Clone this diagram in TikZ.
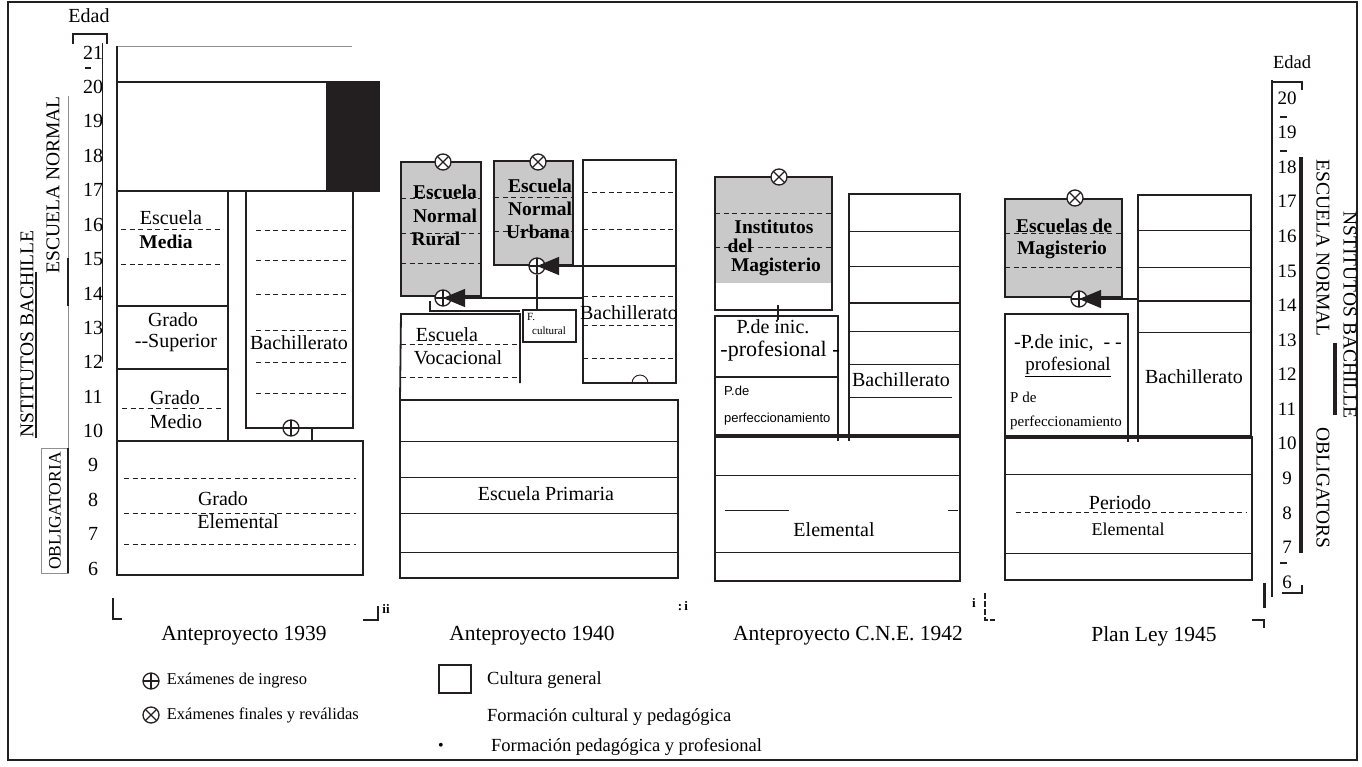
\documentclass[tikz,border=0pt]{standalone}
\usepackage{fontspec}
\setmainfont{Liberation Serif}
\setsansfont{Liberation Sans}
\usepackage{tikz}
\usetikzlibrary{arrows.meta, calc, positioning}
\usepackage{xcolor}
\definecolor{Ink}{cmyk}{0, 0, 0, 1.00}
\definecolor{ScanGray}{cmyk}{0, 0, 0, 0.24}
\definecolor{FaintGray}{cmyk}{0, 0, 0, 0.50}
\newcommand{\fsz}[1]{\fontsize{#1}{#1}\selectfont}
\tikzset{%
  plain_block/.style={%
    rectangle,%
    draw=Ink,%
    line width=1.8pt,%
    inner sep=0pt,%
    outer sep=0pt,%
    anchor=north west,%
  },
  shaded_block/.style={%
    plain_block,%
    fill=ScanGray,%
    line width=2.4pt,%
  },
  base_block/.style={%
    plain_block,%
    line width=2.6pt,%
  },
  edge_line/.style={%
    color=Ink,%
    line width=1.8pt,%
  },
  thin_rule/.style={%
    color=Ink,%
    line width=0.9pt,%
  },
  heavy_rule/.style={%
    color=Ink,%
    line width=2.8pt,%
  },
  dash_rule/.style={%
    color=Ink,%
    line width=1pt,%
    dash pattern=on 5pt off 3.5pt,%
  },
  annotate/.style={%
    font={\fsz{20}},%
    inner sep=0pt,%
  },
  bold_annotate/.style={%
    font={\fsz{19.5}\bfseries},%
    inner sep=0pt,%
  },
  small_annotate/.style={%
    font={\fsz{15}},%
    inner sep=0pt,%
    anchor=west,%
  },
  sans_annotate/.style={%
    font={\sffamily\fsz{13}},%
    inner sep=0pt,%
    anchor=west,%
  },
  age_label/.style={%
    font={\fsz{20}},%
    inner sep=0pt,%
  },
  side_label/.style={%
    font={\fsz{19.5}},%
    inner sep=0pt,%
  },
  column_title/.style={%
    font={\fsz{21.5}},%
    inner sep=0pt,%
  },
  key_text/.style={%
    font={\fsz{16.5}},%
    inner sep=0pt,%
    anchor=west,%
  },
  key_text_large/.style={%
    font={\fsz{18.5}},%
    inner sep=0pt,%
    anchor=west,%
  },
  crop_text/.style={%
    font={\fsz{13}\bfseries},%
    inner sep=0pt,%
  },
  ingreso_mark/.style={%
    circle,%
    draw=Ink,%
    fill=white,%
    line width=1.3pt,%
    minimum size=16pt,%
    inner sep=0pt,%
    path picture={%
      \draw[line width=1.1pt]
        (path picture bounding box.north) -- (path picture bounding box.south)
        (path picture bounding box.west) -- (path picture bounding box.east);%
    },%
  },
  final_mark/.style={%
    circle,%
    draw=Ink,%
    fill=white,%
    line width=1.3pt,%
    minimum size=16pt,%
    inner sep=0pt,%
    path picture={%
      \draw[line width=1.1pt]
        (path picture bounding box.north west) -- (path picture bounding box.south east)
        (path picture bounding box.south west) -- (path picture bounding box.north east);%
    },%
  },
  entry_arrow/.style={%
    color=Ink,%
    line width=1.2pt,%
    -{Triangle[length=22pt, width=18pt]},%
  },
}

\begin{document}
\begin{tikzpicture}[x=1pt, y=-1pt]
  \useasboundingbox (0,0) rectangle (1362,766);
  \draw[heavy_rule, line width=2.4pt] (8,2) rectangle (1357,760);

  % left age scale
  \node[age_label] (edad_l) at (89,16) {Edad};
  \draw[heavy_rule] (73,44) -- (73,34) -- (107,34) -- (107,44);
  \draw[thin_rule] (102,43) -- (102,362);
  \draw[heavy_rule] (85,68) -- (91,68);
  \foreach \a in {6,...,21}
    \node[age_label] (la\a) at (93,{87+(20-\a)*34.4}) {\a};
  \node[side_label, rotate=90] (inst_l) at (27,334) {NSTITUTOS BACHILLE};
  \draw[thin_rule, line width=1.4pt] (36,272) -- (36,438);
  \node[side_label, rotate=90] (normal_l) at (53,185) {ESCUELA NORMAL};
  \draw[thin_rule, color=FaintGray] (68,96) -- (68,448);
  \draw[heavy_rule] (68,258) -- (68,306);
  \node[side_label, font={\fsz{17.5}}, rotate=90] (oblig_l) at (55,511) {OBLIGATORIA};
  \draw[thin_rule, color=FaintGray] (41,448) rectangle (68,573);
  \draw[heavy_rule] (68,448) -- (68,573);

  % Anteproyecto 1939
  \draw[thin_rule, color=FaintGray] (352,46) -- (117,46);
  \node[plain_block, draw=none, minimum width=235pt, minimum height=109pt] (upper39) at (117,82) {};
  \draw[thin_rule, line width=1.4pt] (117,46) -- (upper39.south west) -- (upper39.south east);
  \draw[heavy_rule] (upper39.north west) -- (upper39.north east);
  \node[plain_block, fill=Ink, minimum width=52pt, minimum height=109pt] (dark39) at (327,82) {};
  \node[plain_block, minimum width=111pt, minimum height=115pt] (media39) at (117,191) {};
  \node[plain_block, minimum width=111pt, minimum height=63pt] (sup39) at (117,306) {};
  \node[plain_block, minimum width=111pt, minimum height=72pt] (medio39) at (117,369) {};
  \node[plain_block, minimum width=107pt, minimum height=237pt] (bach39) at (246,191) {};
  \node[plain_block, minimum width=246pt, minimum height=134pt] (elem39) at (117,441) {};
  \foreach \yy in {229,264} \draw[dash_rule] (121,\yy) -- (223,\yy);
  \draw[dash_rule] (122,408) -- (221,408);
  \foreach \yy in {478,513,544} \draw[dash_rule] (124,\yy) -- (356,\yy);
  \foreach \yy in {230,260,294,330,362,393} \draw[dash_rule] (256,\yy) -- (346,\yy);
  \node[annotate] (esc39) at (171,218) {Escuela};
  \node[bold_annotate] (media39_t) at (166,242) {Media};
  \node[annotate] (gsup39) at (173,320) {Grado};
  \node[annotate] (sup39_t) at (176,343) {-{}-Superior};
  \node[annotate] (gmed39) at (175,398) {Grado};
  \node[annotate] (med39_t) at (176,422) {Medio};
  \node[annotate] (gele39) at (223,499) {Grado};
  \node[annotate] (ele39_t) at (238,522) {Elemental};
  \node[annotate] (bach39_t) at (299,343) {Bachillerato};
  \draw[edge_line, line width=1.4pt] (bach39.south west) ++(66,0) -- ++(0,13);
  \node[ingreso_mark] (in39) at (291,428) {};
  \node[column_title] (t39) at (244,636) {Anteproyecto 1939};
  \draw[heavy_rule, line width=2.4pt] (113,598) -- (113,619) -- (122,619);
  \draw[heavy_rule, line width=2.4pt] (363,620) -- (378,620) -- (378,606);
  \node[crop_text] (crop39) at (386,609) {ii};

  % Anteproyecto 1940
  \node[shaded_block, minimum width=80pt, minimum height=134pt] (rural) at (401,162) {};
  \node[shaded_block, minimum width=79pt, minimum height=104pt] (urbana) at (494,161) {};
  \node[plain_block, minimum width=93pt, minimum height=223pt] (bach40) at (583,160) {};
  \node[plain_block, draw=none, minimum width=119pt, minimum height=69pt] (voc) at (401,314) {};
  \node[plain_block, line width=2.2pt, minimum width=53pt, minimum height=32pt] (fcult) at (523,310) {};
  \node[base_block, minimum width=278pt, minimum height=178pt] (prim) at (400,400) {};
  \draw[edge_line] (voc.south east) -- (voc.north east) -- (voc.north west) -- (prim.north west);
  \foreach \yy in {198,233,263} \draw[dash_rule] (rural.west |- 0,\yy) -- (rural.east |- 0,\yy);
  \foreach \yy in {197,231} \draw[dash_rule] (urbana.west |- 0,\yy) -- (urbana.east |- 0,\yy);
  \foreach \yy in {192,229,296,325,358} \draw[dash_rule] (bach40.west |- 0,\yy) -- (bach40.east |- 0,\yy);
  \draw[heavy_rule] (bach40.west |- 0,266) -- (bach40.east |- 0,266);
  \foreach \yy in {344,377} \draw[dash_rule] (voc.west |- 0,\yy) -- (voc.east |- 0,\yy);
  \foreach \yy in {441,477,513,552} \draw[thin_rule] (prim.west |- 0,\yy) -- (prim.east |- 0,\yy);
  \node[bold_annotate] (rural_t1) at (445,192) {Escuela};
  \node[bold_annotate] (rural_t2) at (445,216) {Normal};
  \node[bold_annotate] (rural_t3) at (436,239) {Rural};
  \node[bold_annotate] (urb_t1) at (540,186) {Escuela};
  \node[bold_annotate] (urb_t2) at (540,209) {Normal};
  \node[bold_annotate] (urb_t3) at (538,232) {Urbana};
  \node[annotate] (voc_t1) at (447,335) {Escuela};
  \node[annotate] (voc_t2) at (458,358) {Vocacional};
  \node[font={\fsz{11}}, inner sep=0pt, anchor=north west] (fcult_t1) at ($(fcult.north west)+(4,3)$) {F.};
  \node[font={\fsz{11}}, inner sep=0pt] (fcult_t2) at (549,331) {cultural};
  \node[annotate] (bach40_t) at (629,313) {Bachillerato};
  \node[annotate] (prim_t) at (546,494) {Escuela Primaria};
  \node[final_mark] (rural_out) at (443,162) {};
  \node[final_mark] (urb_out) at (538,162) {};
  \node[ingreso_mark] (rural_in) at (443,298) {};
  \node[ingreso_mark] (urb_in) at (537,266) {};
  \draw[thin_rule, line width=1.6pt] (urb_in.south) -- (urb_in.south |- fcult.north);
  \draw[entry_arrow] (bach40.west |- rural_in) -- (rural_in.center);
  \draw[entry_arrow] (bach40.west |- urb_in) -- (urb_in.center);
  \draw[thin_rule, line width=1.4pt] (430,301) |- (520,311);
  \draw[thin_rule] (632,383) arc[start angle=180, end angle=0, radius=8pt];
  \node[column_title] (t40) at (532,636) {Anteproyecto 1940};
  \node[crop_text] (crop40) at (683,606) {:\,i};

  % Anteproyecto C.N.E. 1942
  \fill[ScanGray] (715,177) rectangle (832,283);
  \node[plain_block, line width=2.4pt, minimum width=117pt, minimum height=133pt] (inst) at (715,177) {};
  \node[plain_block, minimum width=123pt, minimum height=61pt] (inic42) at (715,316) {};
  \node[plain_block, minimum width=123pt, minimum height=59pt] (perf42) at (715,377) {};
  \node[plain_block, minimum width=111pt, minimum height=242pt] (bach42) at (849,194) {};
  \node[base_block, minimum width=245pt, minimum height=145pt] (base42) at (715,436) {};
  \draw[heavy_rule, line width=3.6pt] (base42.north west) -- (base42.north east);
  \draw[heavy_rule] (perf42.north west) -- (perf42.north east);
  \draw[edge_line] (perf42.south east) -- ++(0,5);
  \draw[edge_line] (bach42.south west) -- ++(0,5);
  \foreach \yy in {213,247} \draw[dash_rule] (inst.west |- 0,\yy) -- (inst.east |- 0,\yy);
  \foreach \yy in {231,266,331,364} \draw[thin_rule] (bach42.west |- 0,\yy) -- (bach42.east |- 0,\yy);
  \draw[heavy_rule] (bach42.west |- 0,303) -- (bach42.east |- 0,303);
  \draw[thin_rule] (bach42.west |- 0,397) -- (952,397);
  \foreach \yy in {475,552} \draw[thin_rule] (base42.west |- 0,\yy) -- (base42.east |- 0,\yy);
  \draw[thin_rule] (725,510) -- (789,510);
  \draw[thin_rule] (948,510) -- (958,510);
  \draw[thin_rule, line width=1.4pt] (778,305) -- (778,320);
  \node[final_mark] (inst_out) at (779,177) {};
  \node[bold_annotate] (inst_t1) at (774,227) {Institutos};
  \node[bold_annotate] (inst_t2) at (740,246) {del};
  \node[bold_annotate] (inst_t3) at (776,267) {Magisterio};
  \node[annotate] (inic42_t1) at (773,327) {P.de inic.};
  \node[annotate, font={\fsz{22}}] (inic42_t2) at (780,351) {-profesional -};
  \node[sans_annotate] (perf42_t1) at (724,391) {P.de};
  \node[sans_annotate] (perf42_t2) at (724,419) {perfeccionamiento};
  \node[annotate] (bach42_t) at (901,380) {Bachillerato};
  \node[annotate] (base42_t) at (834,530) {Elemental};
  \node[column_title] (t42) at (848,636) {Anteproyecto C.N.E. 1942};
  \node[crop_text] (crop42) at (974,603) {i};
  \draw[heavy_rule, line width=2.4pt, dash pattern=on 6pt off 2pt] (985,593) -- (985,620) -- (995,620);

  % Plan Ley 1945
  \node[shaded_block, minimum width=117pt, minimum height=98pt] (mag45) at (1005,199) {};
  \node[plain_block, minimum width=123pt, minimum height=123pt] (inic45) at (1005,314) {};
  \node[plain_block, minimum width=113pt, minimum height=242pt] (bach45) at (1138,195) {};
  \node[base_block, minimum width=247pt, minimum height=143pt] (base45) at (1005,437) {};
  \draw[heavy_rule, line width=3.6pt] (base45.north west) -- (base45.north east);
  \draw[edge_line] (inic45.south east) -- ++(0,5);
  \draw[edge_line] (bach45.south west) -- ++(0,5);
  \foreach \yy in {233,267} \draw[dash_rule] (mag45.west |- 0,\yy) -- (mag45.east |- 0,\yy);
  \foreach \yy in {230,267,332} \draw[thin_rule] (bach45.west |- 0,\yy) -- (bach45.east |- 0,\yy);
  \draw[heavy_rule] (bach45.west |- 0,301) -- (bach45.east |- 0,301);
  \foreach \yy in {474,553} \draw[thin_rule] (base45.west |- 0,\yy) -- (base45.east |- 0,\yy);
  \draw[dash_rule] (1016,512) -- (1247,512);
  \node[bold_annotate] (mag_t1) at (1064,226) {Escuelas de};
  \node[bold_annotate] (mag_t2) at (1062,250) {Magisterio};
  \node[annotate] (inic45_t1) at (1068,343) {-P.de inic, \ - -};
  \node[annotate, font={\fsz{19}}] (inic45_t2) at (1068,367) {\underline{profesional}};
  \node[small_annotate] (perf45_t1) at (1010,397) {P de};
  \node[small_annotate] (perf45_t2) at (1010,423) {perfeccionamiento};
  \node[annotate] (bach45_t) at (1194,377) {Bachillerato};
  \node[annotate] (per45_t) at (1120,503) {Periodo};
  \node[annotate, font={\fsz{18}}] (ele45_t) at (1128,529) {Elemental};
  \node[final_mark] (mag_out) at (1075,198) {};
  \node[ingreso_mark] (mag_in) at (1079,299) {};
  \draw[entry_arrow] (bach45.west |- mag_in) -- (mag_in.center);
  \node[column_title] (t45) at (1154,636) {Plan Ley 1945};
  \draw[heavy_rule, line width=3pt] (1264,583) -- (1264,608);
  \draw[heavy_rule, line width=2.4pt] (1252,620) -- (1264,620) -- (1264,628);

  % right age scale
  \node[age_label, font={\fsz{18.5}}] (edad_r) at (1292,62) {Edad};
  \draw[thin_rule, line width=1.6pt] (1272,80) -- (1272,597);
  \draw[heavy_rule] (1272,82) -- (1302,82) -- (1302,90);
  \draw[heavy_rule, line width=1.6pt] (1282,593) -- (1302,593) -- (1302,585);
  \foreach \a in {6,...,20}
    \node[age_label, font={\fsz{19}}] (ra\a) at (1287,{98+(20-\a)*34.57}) {\a};
  \foreach \yy in {117,151,563} \draw[heavy_rule] (1280,\yy) -- (1287,\yy);
  \draw[heavy_rule, line width=3.4pt] (1301,157) -- (1301,553);
  \node[side_label, rotate=-90] (normal_r) at (1323,248) {ESCUELA NORMAL};
  \node[side_label, rotate=-90] (oblig_r) at (1323,488) {OBLIGATORS};
  \node[side_label, rotate=-90] (inst_r) at (1350,315) {NSTITUTOS BACHILLE};
  \draw[heavy_rule, line width=3.4pt] (1335,343) -- (1335,415);

  % legend
  \node[ingreso_mark] (leg_in) at (151,681) {};
  \node[key_text, right=7pt of leg_in] (leg_in_t) {Exámenes de ingreso};
  \node[final_mark] (leg_out) at (151,715) {};
  \node[key_text, right=7pt of leg_out] (leg_out_t) {Exámenes finales y reválidas};
  \node[plain_block, line width=2.8pt, minimum width=32pt, minimum height=28pt] (leg_box) at (439,665) {};
  \node[key_text_large] (leg_box_t) at (487,680) {Cultura general};
  \node[key_text_large] (leg_cp_t) at (487,717) {Formación cultural y pedagógica};
  \node[font={\fsz{16}}, inner sep=0pt] (leg_dot) at (441,747) {•};
  \node[key_text_large] (leg_pp_t) at (491,747) {Formación pedagógica y profesional};

\end{tikzpicture}
\end{document}
